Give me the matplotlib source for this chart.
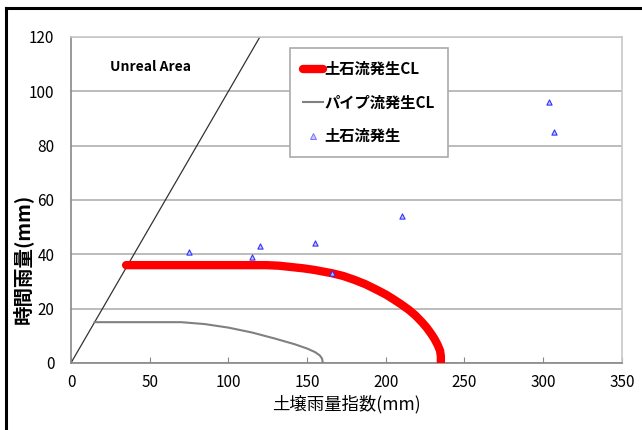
import matplotlib
matplotlib.use("Agg")
import matplotlib.pyplot as plt
from matplotlib.lines import Line2D

plt.rcParams['font.family'] = ['Noto Sans CJK JP', 'DejaVu Sans']

# 土石流発生CL
cl_debris_x = [35, 124, 132, 140, 148, 155, 166, 173, 180, 187, 194, 200, 205, 210,
               215, 219, 223, 226, 229, 231, 233, 234.5, 235, 235]
cl_debris_y = [36, 36, 35.8, 35.3, 34.8, 34.2, 33, 32, 30.6, 29, 27, 25.2, 23.4, 21.5,
               19.4, 17.4, 15, 13, 10.6, 8.8, 6.6, 4.5, 2.5, 0]

# パイプ流発生CL
cl_pipe_x = [15, 70, 85, 100, 115, 130, 142, 150, 155, 158, 159.5, 160]
cl_pipe_y = [15, 15, 14.3, 13, 11.2, 8.9, 6.9, 5.3, 4, 2.8, 1.6, 0]

# 土石流発生 (observed)
obs_x = [75, 115, 120, 155, 166, 210, 304, 307]
obs_y = [41, 39, 43, 44, 33, 54, 96, 85]

# Unreal Area boundary (y = x)
bound_x = [0, 120]
bound_y = [0, 120]

fig = plt.figure(figsize=(6.42, 4.30), dpi=100)
ax = fig.add_axes([0.1106, 0.156, 0.858, 0.758])

ax.plot(bound_x, bound_y, color='#333333', lw=0.9, zorder=2)
ax.plot(cl_pipe_x, cl_pipe_y, color='#808080', lw=1.5, zorder=3)
ax.plot(cl_debris_x, cl_debris_y, color='#ff0000', lw=6, solid_capstyle='round',
        solid_joinstyle='round', zorder=4)
ax.scatter(obs_x, obs_y, marker='^', s=14, facecolors='#c8c8ff', edgecolors='#3333ff',
           linewidths=0.8, zorder=5)

ax.set_xlim(0, 350)
ax.set_ylim(0, 120)
ax.set_xticks(range(0, 351, 50))
ax.set_yticks(range(0, 121, 20))
ax.yaxis.grid(True, color='#b0b0b0', lw=1.2)
ax.set_axisbelow(True)
ax.tick_params(axis='x', direction='in', length=4, color='#888888', labelsize=11, pad=8)
ax.tick_params(axis='y', length=0, labelsize=11, pad=12)
for s in ['left', 'bottom']:
    ax.spines[s].set_color('#888888')
    ax.spines[s].set_linewidth(1.2)
for s in ['right', 'top']:
    ax.spines[s].set_color('#c8c8c8')
    ax.spines[s].set_linewidth(1.2)

ax.set_xlabel('土壌雨量指数(mm)', fontsize=12.5, labelpad=3)
ax.set_ylabel('時間雨量(mm)', fontsize=14, fontweight='bold')
ax.yaxis.set_label_coords(-0.07, 0.32)

ax.text(25, 109, 'Unreal Area', fontsize=10, fontweight='bold', va='center')

handles = [
    Line2D([], [], color='#ff0000', lw=6, solid_capstyle='round'),
    Line2D([], [], color='#808080', lw=1.5),
    Line2D([], [], marker='^', ls='none', markersize=4, markerfacecolor='#c8c8ff',
           markeredgecolor='#6666ff', markeredgewidth=0.6),
]
labels = ['土石流発生CL', 'パイプ流発生CL', '土石流発生']
leg = ax.legend(handles, labels, loc='upper left', bbox_to_anchor=(0.384, 0.99),
                fancybox=False, framealpha=1, edgecolor='#aaaaaa', handlelength=1.3,
                handletextpad=0.1, labelspacing=1.15, borderpad=0.85,
                prop={'size': 11, 'weight': 'bold'})
leg.get_frame().set_linewidth(1.2)

# black frame on the top and left edge of the image
fig.add_artist(Line2D([6 / 642, 6 / 642], [0, 1 - 8 / 430], color='black', lw=2.2))
fig.add_artist(Line2D([6 / 642, 1], [1 - 8 / 430, 1 - 8 / 430], color='black', lw=2.2))

fig.savefig('out.png', dpi=100)
